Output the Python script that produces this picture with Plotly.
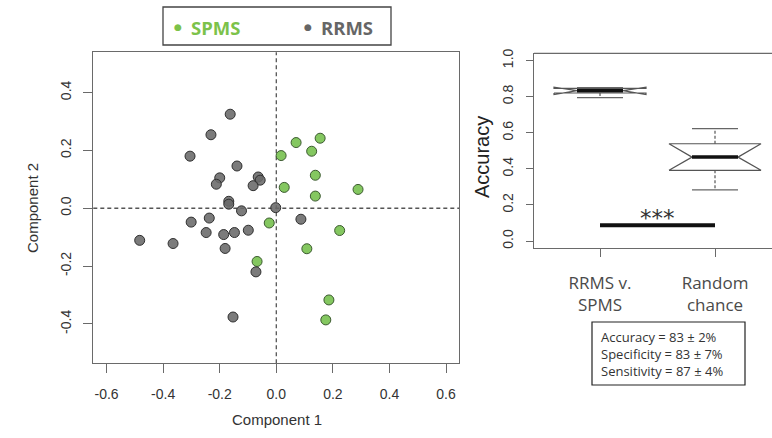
import plotly.graph_objects as go

# ---- PLS-DA scores (component 1 / component 2) ----
spms_c1 = [0.017, 0.028, 0.070, 0.155, 0.125, 0.138, 0.138, 0.289, -0.025,
           -0.068, 0.224, 0.108, 0.186, 0.175]
spms_c2 = [0.182, 0.072, 0.227, 0.242, 0.197, 0.114, 0.042, 0.065, -0.051,
           -0.184, -0.077, -0.140, -0.317, -0.386]
rrms_c1 = [-0.163, -0.231, -0.305, -0.139, -0.200, -0.212, -0.064, -0.057,
           -0.082, -0.168, -0.168, -0.123, -0.002, -0.301, -0.237, -0.483,
           -0.365, -0.248, -0.186, -0.148, -0.099, -0.181, -0.072, -0.153, 0.087]
rrms_c2 = [0.325, 0.254, 0.180, 0.146, 0.105, 0.083, 0.108, 0.097, 0.078,
           0.024, 0.014, -0.009, 0.002, -0.048, -0.034, -0.111, -0.122,
           -0.084, -0.091, -0.084, -0.076, -0.139, -0.220, -0.376, -0.038]
group_names = ["SPMS", "RRMS"]
score_ticks = [-0.6, -0.4, -0.2, 0.0, 0.2, 0.4, 0.6]
score_ticks_y = [-0.4, -0.2, 0.0, 0.2, 0.4]

# ---- classification accuracy boxplot summary ----
comparisons = ["RRMS v. SPMS", "Random chance"]
box_q1 = [0.820, 0.392]
box_median = [0.833, 0.465]
box_q3 = [0.846, 0.539]
box_notch_lo = [0.812, 0.392]
box_notch_hi = [0.852, 0.539]
whisker_lo = [0.795, 0.284]
whisker_hi = [0.850, 0.623]
acc_ticks = [0.0, 0.2, 0.4, 0.6, 0.8, 1.0]
signif_y = 0.088
signif_label = "***"

metric_names = ["Accuracy", "Specificity", "Sensitivity"]
metric_mean = [83, 83, 87]
metric_sd = [2, 7, 4]

W, H = 772, 438
def fx(p):
    return p / W
def fy(p):
    return 1 - p / H

GREEN_FILL = "#84c760"
GREEN_EDGE = "#3c5a30"
GREEN_TEXT = "#7cc24a"
GREY_FILL = "rgba(105,105,105,0.88)"
GREY_EDGE = "#2f2f2f"
FRAME = "#6a6a6a"
TICKFONT = dict(family="Liberation Sans", size=14, color="#333333")
CAL = "Open Sans"

fig = go.Figure()

# score plot
fig.add_trace(go.Scatter(
    x=spms_c1, y=spms_c2, mode="markers", name=group_names[0],
    marker=dict(size=10, color=GREEN_FILL, line=dict(color=GREEN_EDGE, width=1)),
    xaxis="x", yaxis="y", showlegend=False))
fig.add_trace(go.Scatter(
    x=rrms_c1, y=rrms_c2, mode="markers", name=group_names[1],
    marker=dict(size=10, color=GREY_FILL, line=dict(color=GREY_EDGE, width=1)),
    xaxis="x", yaxis="y", showlegend=False))

# notched boxplots drawn from summary statistics
BW, NW, SW = 0.4, 0.2, 0.2
for i in range(len(comparisons)):
    c = i + 1
    q1, md, q3 = box_q1[i], box_median[i], box_q3[i]
    nlo, nhi = box_notch_lo[i], box_notch_hi[i]
    xs = [c - BW, c - BW, c - NW, c - BW, c - BW, c + BW, c + BW, c + NW, c + BW, c + BW, c - BW]
    ys = [q1, nlo, md, nhi, q3, q3, nhi, md, nlo, q1, q1]
    fig.add_trace(go.Scatter(x=xs, y=ys, mode="lines", fill="toself",
                             fillcolor="white", line=dict(color="#555555", width=1.2),
                             xaxis="x2", yaxis="y2", showlegend=False, hoverinfo="skip"))
    fig.add_trace(go.Scatter(x=[c - NW, c + NW], y=[md, md], mode="lines",
                             line=dict(color="#111111", width=3.5),
                             xaxis="x2", yaxis="y2", showlegend=False))
    for a, b in ((q3, whisker_hi[i]), (q1, whisker_lo[i])):
        fig.add_trace(go.Scatter(x=[c, c], y=[a, b], mode="lines",
                                 line=dict(color="#555555", width=1.2, dash="3px,2px"),
                                 xaxis="x2", yaxis="y2", showlegend=False))
        fig.add_trace(go.Scatter(x=[c - SW, c + SW], y=[b, b], mode="lines",
                                 line=dict(color="#666666", width=1.2),
                                 xaxis="x2", yaxis="y2", showlegend=False))

# significance bar between the two comparisons
fig.add_trace(go.Scatter(x=[1, 2], y=[signif_y, signif_y], mode="lines",
                         line=dict(color="#111111", width=4),
                         xaxis="x2", yaxis="y2", showlegend=False))

fmt = lambda v: f"{v:.1f}"

fig.update_layout(
    width=W, height=H, margin=dict(l=0, r=0, t=0, b=0),
    paper_bgcolor="white", plot_bgcolor="white", template="none",
    xaxis=dict(domain=[fx(93.3), fx(459.3)], range=[-0.647, 0.647],
               tickvals=score_ticks, ticktext=[fmt(v) for v in score_ticks],
               ticks="outside", ticklen=9, tickcolor=FRAME, tickwidth=1.2,
               ticklabelstandoff=9,
               showline=True, linecolor=FRAME, linewidth=1.2, mirror=True,
               showgrid=False, zeroline=False, tickfont=TICKFONT, automargin=False),
    yaxis=dict(domain=[fy(363.3), fy(52.3)], range=[-0.536, 0.539],
               tickvals=score_ticks_y, ticktext=[fmt(v) for v in score_ticks_y],
               tickangle=-90, ticklabelstandoff=7,
               ticks="outside", ticklen=9, tickcolor=FRAME, tickwidth=1.2,
               showline=True, linecolor=FRAME, linewidth=1.2, mirror=True,
               showgrid=False, zeroline=False, tickfont=TICKFONT, automargin=False),
    xaxis2=dict(domain=[fx(534), 1.0], range=[0.426, 2.4957], anchor="y2",
                tickvals=[1, 2], ticktext=[t.replace(" ", "<br>", 1) if t.startswith("Random")
                                           else t.replace(" SPMS", "<br>SPMS") for t in comparisons],
                ticks="outside", ticklen=8, tickcolor=FRAME, tickwidth=1.2,
                ticklabelstandoff=11,
                showline=True, linecolor=FRAME, linewidth=1.2,
                showgrid=False, zeroline=False, automargin=False,
                tickfont=dict(family=CAL, size=17, color="#4a4a4a")),
    yaxis2=dict(domain=[fy(248.3), fy(53.3)], range=[-0.04, 1.04], anchor="x2",
                tickvals=acc_ticks, ticktext=[fmt(v) for v in acc_ticks], tickangle=-90,
                ticklabelstandoff=7,
                ticks="outside", ticklen=7, tickcolor=FRAME, tickwidth=1.2,
                showline=True, linecolor=FRAME, linewidth=1.2,
                showgrid=False, zeroline=False, tickfont=TICKFONT, automargin=False),
)

shapes = [
    # reference lines through the origin of the score plot
    dict(type="line", xref="x", yref="y domain", x0=0, x1=0, y0=0, y1=1,
         line=dict(color="#555555", width=1.3, dash="4px,3px"), layer="below"),
    dict(type="line", xref="x domain", yref="y", x0=0, x1=1, y0=0, y1=0,
         line=dict(color="#555555", width=1.3, dash="4px,3px"), layer="below"),
    # top edge of the boxplot panel
    dict(type="line", xref="x2 domain", yref="y2 domain", x0=0, x1=1, y0=1, y1=1,
         line=dict(color=FRAME, width=1.2)),
    # legend frame
    dict(type="rect", xref="paper", yref="paper", x0=fx(163), x1=fx(391),
         y0=fy(45), y1=fy(7), line=dict(color="#444444", width=1.3)),
    # performance summary frame
    dict(type="rect", xref="paper", yref="paper", x0=fx(592), x1=fx(745),
         y0=fy(385), y1=fy(322), line=dict(color="#222222", width=1.2)),
]

legend_colors = [GREEN_TEXT, "#666666"]
legend_x = [178, 308]
annotations = []
for name, col, lx in zip(group_names, legend_colors, legend_x):
    annotations.append(dict(xref="paper", yref="paper", x=fx(lx), y=fy(27),
                            text="●", showarrow=False, xanchor="center", yanchor="middle",
                            font=dict(family="DejaVu Sans", size=9, color=col)))
    annotations.append(dict(xref="paper", yref="paper", x=fx(lx + 11), y=fy(27),
                            text=f"<b>{name}</b>", showarrow=False, xanchor="left",
                            yanchor="middle", font=dict(family=CAL, size=18.5, color=col)))

annotations += [
    dict(xref="paper", yref="paper", x=fx(277), y=fy(419), text="Component 1",
         showarrow=False, xanchor="center", yanchor="middle",
         font=dict(family="Liberation Sans", size=15, color="#333333")),
    dict(xref="paper", yref="paper", x=fx(32), y=fy(208), text="Component 2",
         textangle=-90, showarrow=False, xanchor="center", yanchor="middle",
         font=dict(family="Liberation Sans", size=15, color="#333333")),
    dict(xref="paper", yref="paper", x=fx(482), y=fy(157), text="Accuracy",
         textangle=-90, showarrow=False, xanchor="center", yanchor="middle",
         font=dict(family="Liberation Sans", size=20, color="#222222")),
    dict(xref="x2", yref="y2", x=1.5, y=signif_y, text=signif_label,
         showarrow=False, xanchor="center", yanchor="bottom", yshift=-8,
         font=dict(family="DejaVu Sans", size=23, color="#333333")),
    dict(xref="paper", yref="paper", x=fx(599), y=fy(354),
         text="<br>".join(f"{n} = {m} ± {s}%" for n, m, s in
                          zip(metric_names, metric_mean, metric_sd)),
         showarrow=False, xanchor="left", yanchor="middle", align="left",
         font=dict(family=CAL, size=13, color="#333333")),
]

fig.update_layout(shapes=shapes, annotations=annotations)
fig.write_html("out.html")
